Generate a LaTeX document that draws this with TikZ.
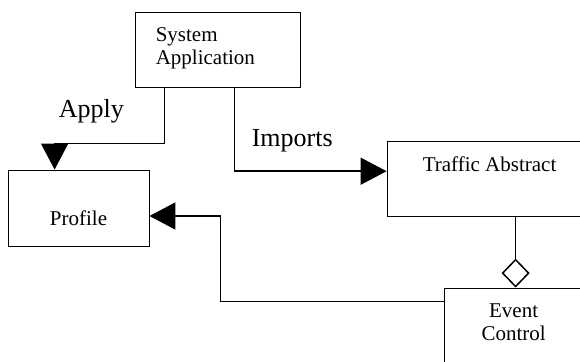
\documentclass[tikz,border=0pt]{standalone}
\usepackage{fontspec}
\setmainfont{Liberation Serif}
\usetikzlibrary{arrows.meta,positioning,calc}

\begin{document}
\begin{tikzpicture}[
    x=1pt, y=-1pt,
    classbox/.style={rectangle, draw, line width=0.8pt, inner sep=0pt, minimum height=75pt},
    boxtext/.style={inner sep=0pt, font=\fontsize{21pt}{23.5pt}\selectfont},
    tag/.style={inner sep=0pt, font=\fontsize{26pt}{30pt}\selectfont},
    arrow/.style={line width=1.5pt, -{Triangle[length=26pt, width=27pt]}},
    aggr/.style={line width=1.5pt, -{Diamond[open, length=29pt, width=28pt]}}
]
\clip (0,0) rectangle (580,361);

\node[classbox, minimum width=165pt] (sys) at (217.5,49.5) {};
\node[classbox, minimum width=141pt, minimum height=76pt] (profile) at (78.5,208) {};
\node[classbox, minimum width=206pt] (traffic) at (490,179.2) {};
\node[classbox, minimum width=140pt] (event) at (514,325.5) {};

\node[boxtext, anchor=base west, align=left] (systext) at ($(sys.north west)+(21,53)$) {System\\Application};
\node[boxtext, anchor=base] (profiletext) at ($(profile.center)+(0,17)$) {Profile};
\node[boxtext, anchor=base] (traffictext) at ($(traffic.north west)+(103,30)$) {Traffic Abstract};
\node[boxtext, anchor=base, align=center] (eventtext) at ($(event.north west)+(70,53)$) {Event\\Control};

\node[tag, anchor=base west] (apply) at ($(sys.south west)+(-76,30)$) {Apply};
\node[tag, anchor=base west] (imports) at ($(sys.south west)+(117,59.5)$) {Imports};

\draw[arrow] ([xshift=30pt]sys.south west) -- ++(0,56) -| ([xshift=47pt]profile.north west);
\draw[arrow] ([xshift=100pt]sys.south west) |- ([yshift=8pt]traffic.west);
\draw[arrow] ([yshift=-14pt]event.north west) -- ++(-223,0) |- ([yshift=-8pt]profile.east);
\draw[aggr] ([xshift=129pt]traffic.south west) -- ([xshift=72pt]event.north west);

\end{tikzpicture}
\end{document}
